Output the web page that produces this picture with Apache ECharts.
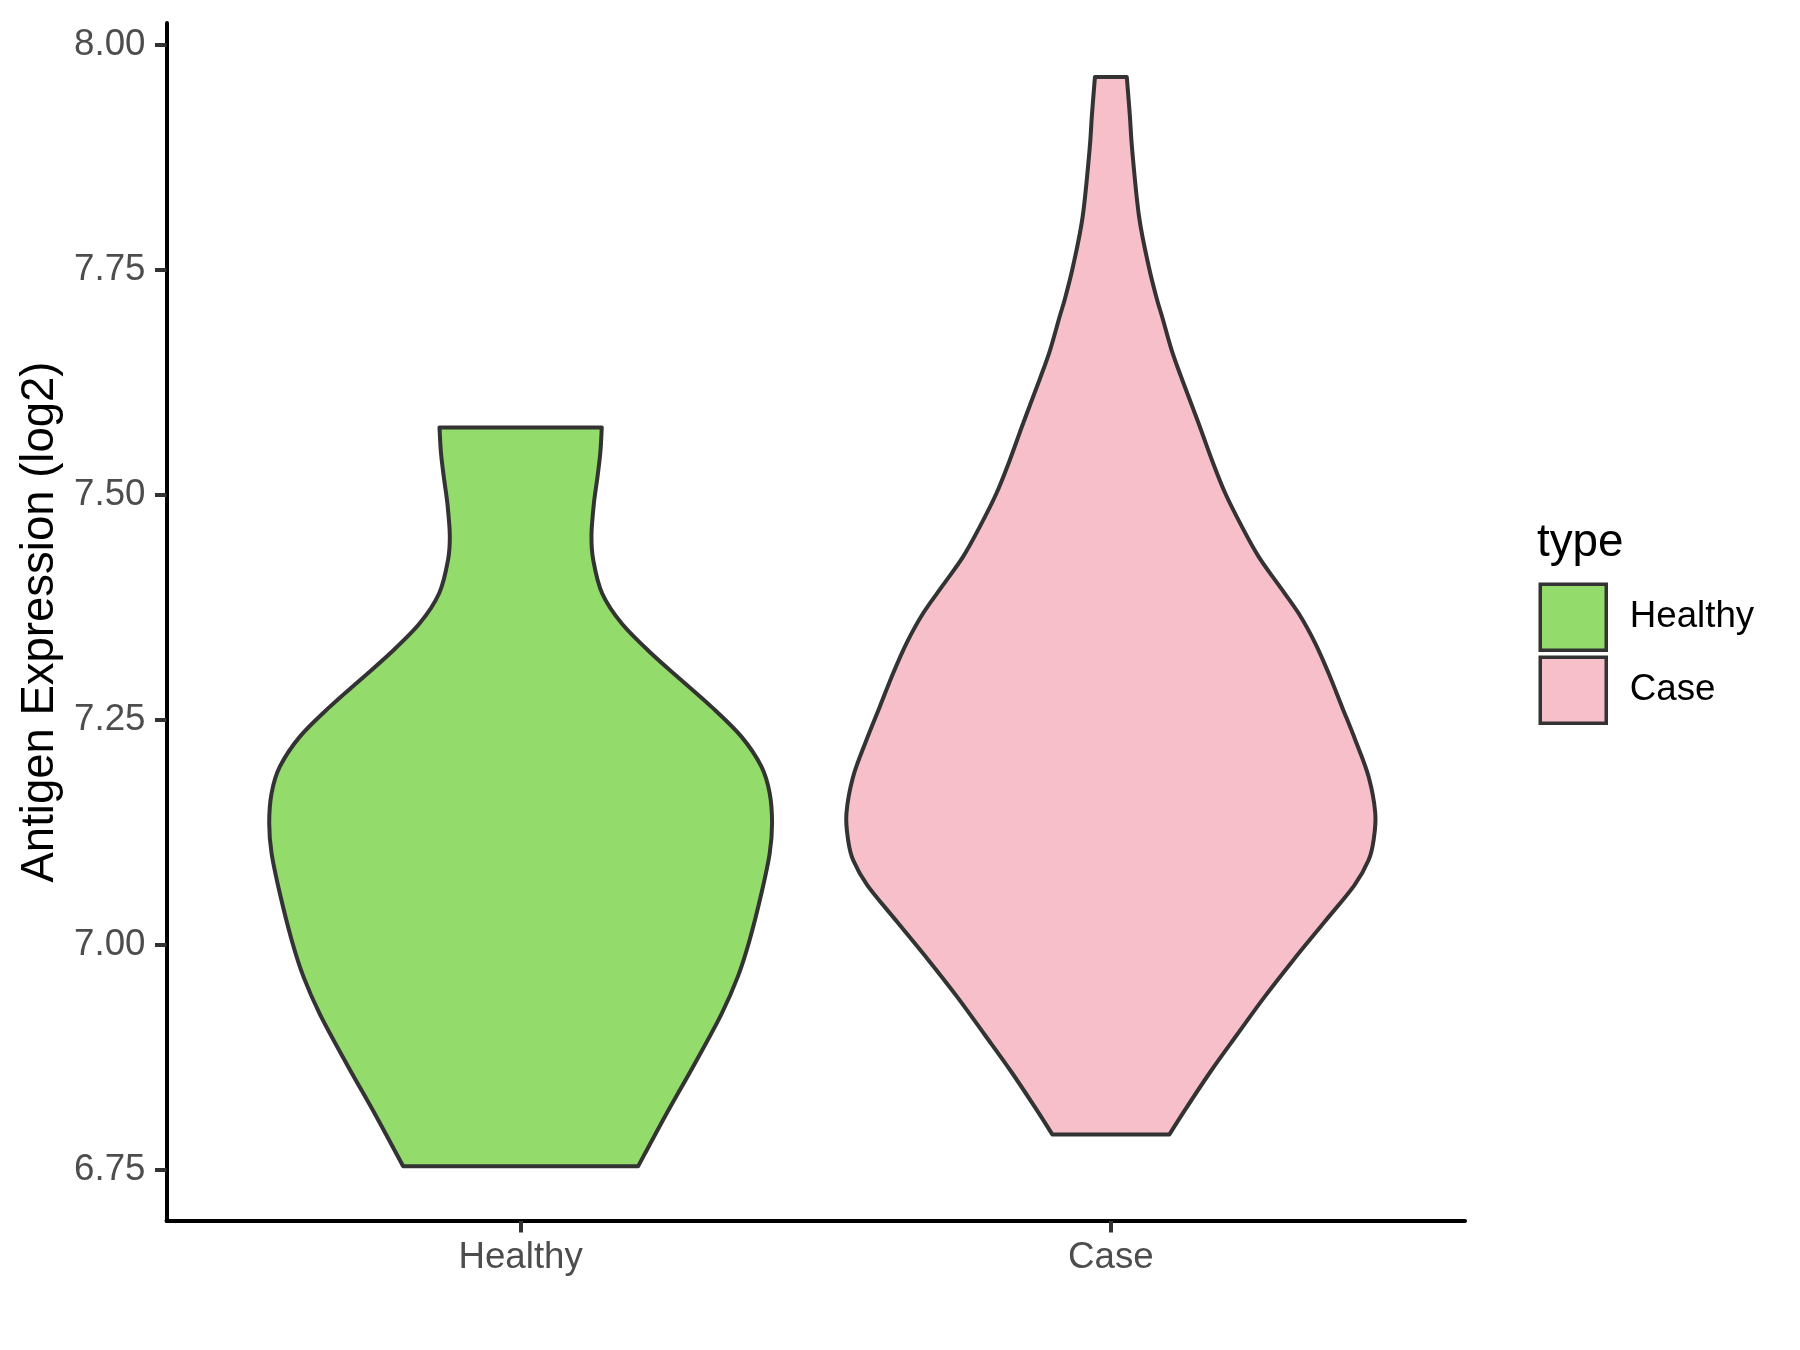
<!DOCTYPE html>
<html>
<head>
<meta charset="utf-8">
<script src="https://cdn.jsdelivr.net/npm/echarts@6/dist/echarts.min.js"></script>
<style>
  html, body { margin: 0; padding: 0; background: #fff; }
  #chart { width: 1800px; height: 1350px; }
</style>
</head>
<body>
<div id="chart"></div>
<script>
// ---- data ----
const categories = ['Healthy', 'Case'];
const yTicks = [6.75, 7.00, 7.25, 7.50, 7.75, 8.00];

// Healthy violin: expression values (bottom -> top) and half-width of the density outline (category units)
const healthyValues = [6.754, 6.810, 6.867, 6.923, 6.9648, 7.0056, 7.0574, 7.1019, 7.1352, 7.1685, 7.1981,
  7.2315, 7.2648, 7.2944, 7.3241, 7.3574, 7.3908, 7.4278, 7.455, 7.490, 7.519, 7.547, 7.575];
const healthyHalfWidth = [0.199, 0.245, 0.294, 0.340, 0.368, 0.388, 0.408, 0.422, 0.426, 0.422, 0.408,
  0.374, 0.323, 0.272, 0.221, 0.171, 0.138, 0.123, 0.120, 0.124, 0.130, 0.135, 0.1375];

// Case violin
const caseValues = [6.7895, 6.8176, 6.8597, 6.9005, 6.9426, 6.9834, 7.0255, 7.0663, 7.0944, 7.1167, 7.1463,
  7.1870, 7.2278, 7.2648, 7.3019, 7.3352, 7.3685, 7.4000, 7.4315, 7.4648, 7.5019, 7.5389, 7.5797, 7.6278,
  7.6607, 7.6977, 7.7181, 7.7538, 7.8087, 7.8827, 7.9222, 7.9643];
const caseHalfWidth = [0.0992, 0.1265, 0.1693, 0.2140, 0.2607, 0.3093, 0.3619, 0.4125, 0.4367, 0.4452, 0.4480,
  0.4367, 0.4141, 0.3915, 0.3689, 0.3463, 0.3181, 0.2842, 0.2503, 0.2220, 0.1938, 0.1712, 0.1486, 0.1210,
  0.1031, 0.0870, 0.0778, 0.0642, 0.0479, 0.0362, 0.0321, 0.0270];

const colors = { Healthy: '#93DB6A', Case: '#F7BFCA' };

// ---- rendering ----
function splinePath(pts) {
  let d = '';
  const n = pts.length;
  for (let i = 0; i < n - 1; i++) {
    const p0 = pts[Math.max(i - 1, 0)], p1 = pts[i], p2 = pts[i + 1], p3 = pts[Math.min(i + 2, n - 1)];
    const c1x = p1[0] + (p2[0] - p0[0]) / 6, c1y = p1[1] + (p2[1] - p0[1]) / 6;
    const c2x = p2[0] - (p3[0] - p1[0]) / 6, c2y = p2[1] - (p3[1] - p1[1]) / 6;
    d += ' C' + c1x.toFixed(2) + ' ' + c1y.toFixed(2) + ' ' + c2x.toFixed(2) + ' ' + c2y.toFixed(2) + ' ' +
      p2[0].toFixed(2) + ' ' + p2[1].toFixed(2);
  }
  return d;
}

function violin(vals, hws, color) {
  return function (params, api) {
    const c = api.value(0);
    const left = vals.map((v, i) => api.coord([c - hws[i], v]));
    const right = vals.map((v, i) => api.coord([c + hws[i], v])).reverse();
    let d = 'M' + left[0][0].toFixed(2) + ' ' + left[0][1].toFixed(2);
    d += splinePath(left);
    d += ' L' + right[0][0].toFixed(2) + ' ' + right[0][1].toFixed(2);
    d += splinePath(right);
    d += ' Z';
    return {
      type: 'path',
      shape: { pathData: d },
      style: { fill: color, stroke: '#333333', lineWidth: 4, lineJoin: 'round' }
    };
  };
}

const FONT = '"Liberation Sans", Arial, sans-serif';
const chart = echarts.init(document.getElementById('chart'), null, { renderer: 'canvas' });

chart.setOption({
  backgroundColor: '#ffffff',
  animation: false,
  grid: { left: 166.5, right: 335, top: 23, bottom: 129, containLabel: false },
  xAxis: {
    type: 'value',
    min: 0.4,
    max: 2.6,
    splitLine: { show: false },
    axisLine: { show: true, onZero: false, lineStyle: { color: '#000', width: 4 } },
    axisTick: { show: true, length: 11.5, customValues: [1, 2], lineStyle: { color: '#333333', width: 4 } },
    axisLabel: {
      customValues: [1, 2],
      formatter: v => categories[Math.round(v) - 1],
      color: '#4D4D4D', fontSize: 36.7, fontFamily: FONT, margin: 18
    }
  },
  yAxis: {
    type: 'value',
    min: 6.6933,
    max: 8.0244,
    name: 'Antigen Expression (log2)',
    nameLocation: 'middle',
    nameGap: 102,
    nameTextStyle: { color: '#000', fontSize: 45.5, fontFamily: FONT },
    splitLine: { show: false },
    axisLine: { show: true, onZero: false, lineStyle: { color: '#000', width: 4 } },
    axisTick: { show: true, length: 11.5, customValues: yTicks, lineStyle: { color: '#333333', width: 4 } },
    axisLabel: {
      customValues: yTicks,
      formatter: v => v.toFixed(2),
      color: '#4D4D4D', fontSize: 36.7, fontFamily: FONT, margin: 21
    }
  },
  legend: {
    orient: 'vertical',
    left: 1538.5,
    top: 582.5,
    padding: 0,
    itemGap: 3.5,
    itemWidth: 66,
    itemHeight: 66,
    icon: 'rect',
    selectedMode: false,
    textStyle: { color: '#000', fontSize: 36.7, fontFamily: FONT, padding: [0, 0, 0, 18.5] },
    data: [
      { name: 'Healthy', itemStyle: { color: colors.Healthy, borderColor: '#333333', borderWidth: 3.5 } },
      { name: 'Case', itemStyle: { color: colors.Case, borderColor: '#333333', borderWidth: 3.5 } }
    ]
  },
  graphic: [{
    type: 'text',
    left: 1537,
    top: 520,
    style: { text: 'type', fill: '#000', font: '45.8px ' + FONT }
  }],
  series: [
    {
      name: 'Healthy',
      type: 'custom',
      itemStyle: { color: colors.Healthy },
      data: [[1, healthyValues[0]]],
      renderItem: violin(healthyValues, healthyHalfWidth, colors.Healthy),
      clip: false
    },
    {
      name: 'Case',
      type: 'custom',
      itemStyle: { color: colors.Case },
      data: [[2, caseValues[0]]],
      renderItem: violin(caseValues, caseHalfWidth, colors.Case),
      clip: false
    }
  ]
});
</script>
</body>
</html>
